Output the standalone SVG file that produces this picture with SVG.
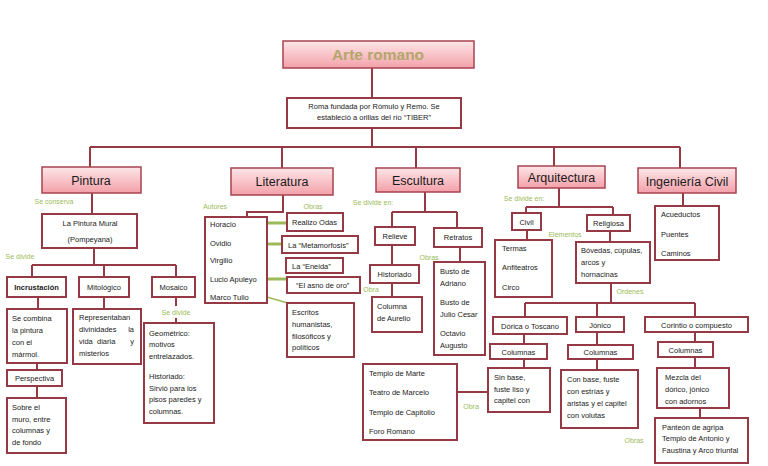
<svg xmlns="http://www.w3.org/2000/svg" width="768" height="466" viewBox="0 0 768 466">
<defs>
<linearGradient id="pk" x1="0" y1="0" x2="0" y2="1">
<stop offset="0" stop-color="#fde6e8"/>
<stop offset="1" stop-color="#f3a0a9"/>
</linearGradient>
<style>
.b{fill:#fff;stroke:#953a45;stroke-width:2}
.c{fill:url(#pk);stroke:#a8434f;stroke-width:1.5}
.t{font-family:"Liberation Sans",Arial,sans-serif;font-size:7.5px;fill:#222}
.m{text-anchor:middle}
.h{font-family:"Liberation Sans",Arial,sans-serif;font-size:12.5px;fill:#1a1a1a;text-anchor:middle}
.g{font-family:"Liberation Sans",Arial,sans-serif;font-size:7px;fill:#9bbb59;text-anchor:middle}
.ln{fill:none;stroke:#953a45;stroke-width:2}
.gl{fill:none;stroke:#9bbb59;stroke-width:3}
</style>
</defs>
<rect width="768" height="466" fill="#fff"/>

<g id="connectors">
<path class="ln" d="M372 68V98M372 128V147M90 147H680M90 147V167M282 147V168M416 147V168M554 147V167M680 147V168"/>
<path class="ln" d="M92 193V214M94 248V265M32 265H176M32 265V277M104 265V277M176 265V277M38 297V309M37 363V370M37 386V398M104 297V309M176 297V306M176 318V323"/>
<path class="ln" d="M283 195V212H247V217"/>
<path class="gl" d="M267 223H287M267 244H282M267 279H287"/>
<path fill="none" stroke="#9bbb59" stroke-width="1.5" d="M267 297L291 304"/>
<path class="ln" d="M425 192V212M392 212H457M392 212V227M457 212V228M392 245V265M392 283V297M460 247V262"/>
<path class="ln" d="M559 187V207M526 207H613M526 207V213M613 207V215M527 230V240M610 231V242M611 283V303M525 303H695M525 303V317M597 303V317M695 303V317M524 334V344M524 359V368M597 332V345M597 359V370M695 332V342M695 357V368M700 408V418M457 392H488"/>
<path class="ln" d="M683 193V206"/>
</g>

<g id="title"><rect class="c" x="283" y="41" width="191" height="27"/><text x="378" y="60" font-family="Liberation Sans,Arial,sans-serif" font-size="15.5" font-weight="bold" fill="#b3a66b" text-anchor="middle">Arte romano</text></g>
<g id="roma"><rect class="b" x="287" y="98" width="174" height="30"/><text class="t m" x="374" y="109">Roma fundada por Rómulo y Remo. Se</text><text class="t m" x="374" y="120">estableció a orillas del río “TIBER”</text></g>

<g id="pintura"><rect class="c" x="42" y="167" width="99" height="26"/><text class="h" x="91" y="185">Pintura</text></g>
<text class="g" x="54" y="204">Se conserva</text>
<g id="mural"><rect class="b" x="42" y="214" width="95" height="34"/><text class="t m" x="90" y="226">La Pintura Mural</text><text class="t m" x="90" y="242">(Pompeyana)</text></g>
<text class="g" x="20" y="259">Se divide</text>
<g id="incrustacion"><rect class="b" x="7" y="277" width="59" height="20"/><text class="t m" x="36.5" y="290" font-weight="bold">Incrustación</text></g>
<g id="mitologico"><rect class="b" x="79" y="277" width="50" height="20"/><text class="t m" x="104" y="290">Mitológico</text></g>
<g id="mosaico"><rect class="b" x="152" y="277" width="43" height="20"/><text class="t m" x="173.5" y="290">Mosaico</text></g>
<g id="secombina"><rect class="b" x="7" y="309" width="60" height="54"/><text class="t" x="12" y="320.5">Se combina</text><text class="t" x="12" y="332.5">la pintura</text><text class="t" x="12" y="344.5">con el</text><text class="t" x="12" y="356.5">mármol.</text></g>
<g id="perspectiva"><rect class="b" x="7" y="370" width="55" height="16"/><text class="t m" x="34.5" y="380.5">Perspectiva</text></g>
<g id="sobre"><rect class="b" x="7" y="398" width="59" height="55"/><text class="t" x="12" y="410">Sobre el</text><text class="t" x="12" y="421.5">muro, entre</text><text class="t" x="12" y="433">columnas y</text><text class="t" x="12" y="444.5">de fondo</text></g>
<g id="representaban"><rect class="b" x="73" y="309" width="68" height="55"/><text class="t" x="79" y="319.5">Representaban</text><text class="t" x="79" y="331.5">divinidades</text><text class="t" x="134" y="331.5" text-anchor="end">la</text><text class="t" x="79" y="343.5">vida</text><text class="t" x="97" y="343.5">diaria</text><text class="t" x="134" y="343.5" text-anchor="end">y</text><text class="t" x="79" y="355.5">misterios</text></g>
<text class="g" x="176" y="314.5">Se divide</text>
<g id="geometrico"><rect class="b" x="144" y="323" width="70" height="100"/><text class="t" x="149" y="335.5">Geométrico:</text><text class="t" x="149" y="346.5">motivos</text><text class="t" x="149" y="358.5">entrelazados.</text><text class="t" x="149" y="378.5">Historiado:</text><text class="t" x="149" y="390.5">Sirvió para los</text><text class="t" x="149" y="402">pisos paredes y</text><text class="t" x="149" y="413.5">columnas.</text></g>

<g id="literatura"><rect class="c" x="231" y="168" width="102" height="27"/><text class="h" x="282" y="186">Literatura</text></g>
<text class="g" x="215" y="209">Autores</text>
<text class="g" x="313" y="209">Obras</text>
<g id="autores"><rect class="b" x="205" y="217" width="62" height="86"/><text class="t" x="210" y="227">Horacio</text><text class="t" x="210" y="245.5">Ovidio</text><text class="t" x="210" y="263">Virgilio</text><text class="t" x="210" y="281.5">Lucio Apuleyo</text><text class="t" x="210" y="300">Marco Tulio</text></g>
<g id="odas"><rect class="b" x="287" y="213" width="56" height="18"/><text class="t" x="292" y="224.5">Realizo Odas</text></g>
<g id="metamorfosis"><rect class="b" x="282" y="236" width="76" height="17"/><text class="t" x="288" y="247.5">La “Metamorfosis”</text></g>
<g id="eneida"><rect class="b" x="286" y="258" width="57" height="15"/><text class="t" x="292" y="268.5">La “Eneida”</text></g>
<g id="asno"><rect class="b" x="287" y="277" width="73" height="16"/><text class="t" x="296" y="287.5">“El asno de oro”</text></g>
<g id="escritos"><rect class="b" x="287" y="303" width="67" height="54"/><text class="t" x="292" y="314.5">Escritos</text><text class="t" x="292" y="326.5">humanistas,</text><text class="t" x="292" y="338.5">filosóficos y</text><text class="t" x="292" y="350">políticos</text></g>

<g id="escultura"><rect class="c" x="376" y="168" width="84" height="24"/><text class="h" x="418" y="185">Escultura</text></g>
<text class="g" x="373" y="205">Se divide en:</text>
<g id="relieve"><rect class="b" x="375" y="227" width="40" height="18"/><text class="t m" x="395" y="238.5">Relieve</text></g>
<g id="retratos"><rect class="b" x="434" y="228" width="48" height="19"/><text class="t m" x="458" y="240">Retratos</text></g>
<g id="historiado"><rect class="b" x="370" y="265" width="49" height="18"/><text class="t m" x="394.5" y="276.5">Historiado</text></g>
<text class="g" x="371" y="292">Obra</text>
<g id="columna"><rect class="b" x="372" y="297" width="50" height="35"/><text class="t" x="377" y="308.5">Columna</text><text class="t" x="377" y="320.5">de Aurelio</text></g>
<text class="g" x="429" y="260">Obras</text>
<g id="bustos"><rect class="b" x="434" y="262" width="51" height="93"/><text class="t" x="440" y="273.5">Busto de</text><text class="t" x="440" y="285.5">Adriano</text><text class="t" x="440" y="304.5">Busto de</text><text class="t" x="440" y="316.5">Julio Cesar</text><text class="t" x="440" y="335.5">Octavio</text><text class="t" x="440" y="347.5">Augusto</text></g>

<g id="arquitectura"><rect class="c" x="518" y="166" width="87" height="22"/><text class="h" x="561.5" y="181.5">Arquitectura</text></g>
<text class="g" x="524" y="201">Se divide en:</text>
<g id="civil"><rect class="b" x="512" y="213" width="29" height="17"/><text class="t m" x="526.5" y="224.5">Civil</text></g>
<g id="religiosa"><rect class="b" x="587" y="215" width="43" height="16"/><text class="t m" x="608.5" y="225.5">Religiosa</text></g>
<text class="g" x="565" y="237">Elementos</text>
<g id="termas"><rect class="b" x="495" y="240" width="57" height="57"/><text class="t" x="502" y="250.5">Termas</text><text class="t" x="502" y="269.5">Anfiteatros</text><text class="t" x="502" y="289.5">Circo</text></g>
<g id="bovedas"><rect class="b" x="576" y="242" width="74" height="41"/><text class="t" x="581" y="252.5">Bóvedas, cúpulas,</text><text class="t" x="581" y="265">arcos  y</text><text class="t" x="581" y="277">hornacinas</text></g>
<text class="g" x="630" y="294">Ordenes</text>
<g id="dorica"><rect class="b" x="493" y="317" width="74" height="17"/><text class="t m" x="530" y="328.5">Dórica o Toscano</text></g>
<g id="jonico"><rect class="b" x="576" y="317" width="48" height="15"/><text class="t m" x="600" y="327.5">Jónico</text></g>
<g id="corintio"><rect class="b" x="645" y="317" width="103" height="15"/><text class="t m" x="696.5" y="327.5">Corintio o compuesto</text></g>
<g id="col1"><rect class="b" x="490" y="344" width="57" height="15"/><text class="t m" x="518.5" y="354.5">Columnas</text></g>
<g id="col2"><rect class="b" x="568" y="345" width="65" height="14"/><text class="t m" x="600.5" y="355">Columnas</text></g>
<g id="col3"><rect class="b" x="658" y="342" width="55" height="15"/><text class="t m" x="685.5" y="352.5">Columnas</text></g>
<g id="sinbase"><rect class="b" x="488" y="368" width="62" height="44"/><text class="t" x="494" y="379.5">Sin base,</text><text class="t" x="494" y="391.5">fuste liso y</text><text class="t" x="494" y="402.5">capitel con</text></g>
<g id="templos"><rect class="b" x="363" y="364" width="94" height="76"/><text class="t" x="369" y="375.5">Templo de Marte</text><text class="t" x="369" y="394.5">Teatro de Marcelo</text><text class="t" x="369" y="414.5">Templo de Capitolio</text><text class="t" x="369" y="433.5">Foro Romano</text></g>
<text class="g" x="471" y="408.5">Obra</text>
<g id="conbase"><rect class="b" x="561" y="370" width="77" height="58"/><text class="t" x="567" y="381.5">Con base, fuste</text><text class="t" x="567" y="393.5">con estrías y</text><text class="t" x="567" y="405.5">aristas y el capitel</text><text class="t" x="567" y="417.5">con volutas</text></g>
<g id="mezcla"><rect class="b" x="657" y="368" width="72" height="40"/><text class="t" x="665" y="379.5">Mezcla del</text><text class="t" x="665" y="391.5">dórico, jónico</text><text class="t" x="665" y="403.5">con adornos</text></g>
<text class="g" x="634" y="442.5">Obras</text>
<g id="panteon"><rect class="b" x="655" y="418" width="93" height="45"/><text class="t" x="662" y="429.5" font-size="7">Panteón de agripa</text><text class="t" x="662" y="441" font-size="7">Templo de Antonio y</text><text class="t" x="662" y="452.5" font-size="7">Faustina  y Arco triunfal</text></g>

<g id="ingenieria"><rect class="c" x="638" y="168" width="98" height="25"/><text class="h" x="687" y="185.5">Ingeniería Civil</text></g>
<g id="obrasciviles"><rect class="b" x="655" y="206" width="64" height="54"/><text class="t" x="661" y="216.5">Acueductos</text><text class="t" x="661" y="236.5">Puentes</text><text class="t" x="661" y="255.5">Caminos</text></g>
</svg>
